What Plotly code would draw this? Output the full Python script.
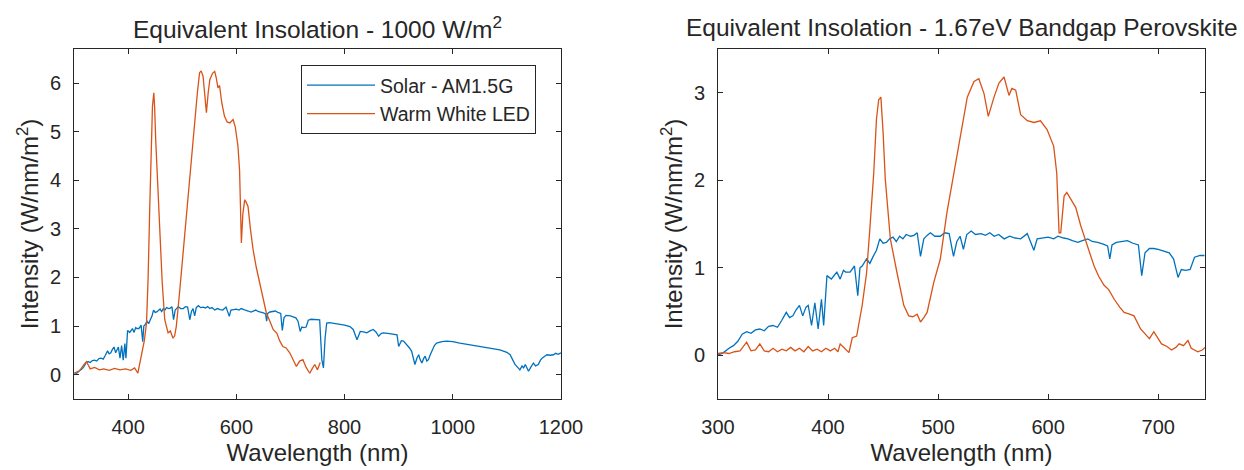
import plotly.graph_objects as go

# ---------------- data ----------------
solar_wl = [300, 305, 310, 314, 318, 322, 326, 330, 334, 338, 342, 346, 350, 354, 358, 362, 365, 368,
            371, 374, 377, 380, 382, 385, 388, 391, 394, 396, 399, 403, 406, 408, 411, 414, 416, 420,
            424, 427, 429, 431, 435, 438, 441, 444, 447, 450, 453, 456, 459, 462, 465, 468, 471, 475,
            478, 481, 484, 487, 490, 493, 497, 502, 506, 510, 514, 517, 520, 523, 526, 530, 534, 539,
            543, 547, 551, 555, 560, 565, 570, 575, 581, 587, 590, 595, 600, 605, 609, 614, 618, 622,
            627, 631, 636, 640, 645, 650, 654, 656, 658, 662, 667, 672, 677, 682, 685, 688, 692, 696,
            700, 705, 710, 714, 718, 721, 725, 729, 733, 738, 742, 748, 754, 758, 761, 764, 767, 772,
            779, 790, 800, 810, 816, 823, 829, 835, 841, 847, 853, 858, 863, 868, 872, 880, 890, 897,
            900, 905, 909, 915, 920, 924, 930, 934, 937, 940, 943, 946, 949, 952, 955, 958, 961, 966,
            970, 980, 989, 1000, 1013, 1030, 1050, 1070, 1087, 1100, 1106, 1111, 1115, 1120, 1124,
            1128, 1131, 1134, 1137, 1140, 1144, 1149, 1153, 1158, 1162, 1165, 1170, 1174, 1180, 1186,
            1190, 1195, 1200]
solar_val = [0.00, 0.03, 0.08, 0.11, 0.16, 0.24, 0.27, 0.25, 0.29, 0.30, 0.28, 0.33, 0.34, 0.32, 0.40,
             0.49, 0.43, 0.45, 0.52, 0.57, 0.45, 0.55, 0.57, 0.34, 0.60, 0.30, 0.64, 0.34, 0.91, 0.87,
             0.92, 0.95, 0.87, 0.97, 0.95, 0.95, 1.02, 0.68, 1.00, 1.02, 1.10, 1.05, 1.13, 1.20, 1.33,
             1.28, 1.29, 1.33, 1.35, 1.30, 1.36, 1.33, 1.38, 1.36, 1.37, 1.40, 1.13, 1.33, 1.37, 1.40,
             1.36, 1.36, 1.40, 1.39, 1.13, 1.30, 1.36, 1.21, 1.38, 1.42, 1.38, 1.39, 1.37, 1.40, 1.36,
             1.38, 1.33, 1.36, 1.34, 1.33, 1.39, 1.20, 1.33, 1.34, 1.35, 1.33, 1.36, 1.34, 1.33, 1.31,
             1.29, 1.31, 1.33, 1.30, 1.29, 1.27, 1.25, 1.10, 1.26, 1.29, 1.30, 1.31, 1.28, 1.26, 0.91,
             1.17, 1.22, 1.22, 1.21, 1.19, 1.17, 1.10, 0.89, 0.98, 0.97, 0.98, 1.12, 1.14, 1.14, 1.13,
             1.13, 0.31, 0.14, 0.75, 1.06, 1.07, 1.06, 1.04, 1.02, 0.99, 0.93, 0.72, 0.89, 0.88, 0.86,
             0.90, 0.93, 0.88, 0.79, 0.85, 0.86, 0.85, 0.84, 0.82, 0.58, 0.70, 0.69, 0.62, 0.55, 0.48,
             0.21, 0.35, 0.41, 0.30, 0.24, 0.33, 0.38, 0.28, 0.31, 0.40, 0.48, 0.60, 0.65, 0.68, 0.69,
             0.68, 0.65, 0.62, 0.58, 0.55, 0.51, 0.46, 0.41, 0.30, 0.21, 0.15, 0.10, 0.18, 0.14, 0.21,
             0.12, 0.07, 0.15, 0.24, 0.18, 0.21, 0.30, 0.34, 0.38, 0.41, 0.40, 0.41, 0.44, 0.42, 0.45]

led1000_wl = [300, 310, 318, 323, 330, 338, 347, 355, 365, 375, 385, 395, 405, 412, 418, 422, 425, 430,
              434, 437, 440, 443, 445, 447.5, 449, 451, 455, 458.5, 463, 467.7, 473.9, 478, 483, 486,
              489, 495, 500, 505, 510, 514, 519, 523, 528, 532, 535, 538.5, 542, 544.7, 548, 551, 556,
              560, 563, 566, 569, 573, 578, 583, 588, 594, 598, 603, 606, 608, 609.3, 612, 615.5, 618,
              621.6, 626, 631, 637, 643, 649, 655.5, 662, 668, 675, 680, 686, 692, 698.7, 705, 711,
              717, 723, 729, 735.7, 740, 744.9, 750, 755]
led1000_val = [0.03, 0.08, 0.20, 0.27, 0.12, 0.15, 0.10, 0.12, 0.09, 0.13, 0.10, 0.12, 0.09, 0.14, 0.03,
               0.25, 0.45, 0.70, 1.06, 2.00, 3.45, 4.70, 5.52, 5.80, 5.50, 4.83, 3.80, 2.77, 1.90, 1.13,
               0.86, 0.90, 0.75, 0.80, 0.99, 1.68, 2.30, 2.98, 3.60, 4.15, 4.80, 5.25, 5.80, 6.21, 6.25,
               6.14, 5.70, 5.39, 5.80, 6.07, 6.20, 6.24, 6.10, 5.90, 5.95, 5.60, 5.32, 5.20, 5.18, 5.25,
               5.10, 4.70, 4.20, 3.20, 2.71, 3.30, 3.60, 3.55, 3.46, 3.00, 2.57, 2.20, 1.89, 1.55, 1.27,
               1.10, 0.93, 0.85, 0.70, 0.58, 0.55, 0.45, 0.30, 0.17, 0.28, 0.31, 0.15, 0.03, 0.12, 0.21,
               0.10, 0.25]

ledpv_wl = [300, 305, 310, 315, 320, 326, 330, 334, 338, 342, 346, 350, 354, 358, 362, 366, 370, 374,
            378, 382, 386, 390, 394, 398, 402, 406, 409, 411, 415, 419, 422, 426, 431, 435, 438, 441.5,
            444, 446, 448, 450, 452, 456.6, 462.7, 468.8, 473.3, 477, 481, 484, 487, 490, 496, 502, 508,
            514, 520, 526.5, 532.6, 537, 541.7, 545.6, 550.8, 555.3, 559.9, 564.4, 567, 570.5, 575, 581,
            587, 593, 599, 605, 607.8, 609.9, 611.4, 614.5, 616.9, 620.5, 625, 629.6, 635.7, 641.7, 646,
            650.8, 655, 660, 665, 669, 674, 678, 684, 688, 692, 696, 700, 703, 708, 712, 716, 719, 723,
            727, 730, 736, 740, 742.5]
ledpv_val = [0.02, 0.03, 0.02, 0.04, 0.05, 0.15, 0.05, 0.06, 0.13, 0.05, 0.04, 0.08, 0.04, 0.07, 0.05,
             0.09, 0.05, 0.08, 0.04, 0.10, 0.05, 0.07, 0.04, 0.08, 0.05, 0.08, 0.04, 0.13, 0.08, 0.03,
             0.20, 0.22, 0.57, 0.94, 1.45, 2.08, 2.70, 2.92, 2.95, 2.55, 2.01, 1.33, 0.94, 0.57, 0.45,
             0.44, 0.47, 0.38, 0.43, 0.49, 0.83, 1.10, 1.63, 2.05, 2.50, 2.95, 3.13, 3.16, 2.99, 2.73,
             2.95, 3.11, 3.18, 2.97, 3.05, 3.03, 2.75, 2.68, 2.66, 2.68, 2.58, 2.39, 2.08, 1.40, 1.40,
             1.82, 1.86, 1.78, 1.69, 1.48, 1.25, 1.02, 0.90, 0.80, 0.75, 0.64, 0.55, 0.49, 0.47, 0.45,
             0.30, 0.24, 0.19, 0.27, 0.18, 0.13, 0.10, 0.06, 0.09, 0.13, 0.11, 0.17, 0.08, 0.04, 0.06,
             0.09]

pv_cutoff = 742.5  # 1240 / 1.67 eV

titles = ["Equivalent Insolation - 1000 W/m<sup>2</sup>",
          "Equivalent Insolation - 1.67eV Bandgap Perovskite"]
x_label = "Wavelength (nm)"
y_label = "Intensity (W/nm/m<sup>2</sup>)"
series_names = ["Solar - AM1.5G", "Warm White LED"]

# ---------------- styling ----------------
W, H = 1244, 470
BLUE = "#0072BD"
ORANGE = "#D95319"
INK = "#262626"
FONT = "Liberation Sans, Arial, sans-serif"

solar_pv_wl = [w for w in solar_wl if w <= pv_cutoff]
solar_pv_val = [v for w, v in zip(solar_wl, solar_val) if w <= pv_cutoff]

fig = go.Figure()
fig.add_trace(go.Scatter(x=solar_wl, y=solar_val, mode="lines", name=series_names[0],
                         line=dict(color=BLUE, width=1.3), xaxis="x", yaxis="y"))
fig.add_trace(go.Scatter(x=led1000_wl, y=led1000_val, mode="lines", name=series_names[1],
                         line=dict(color=ORANGE, width=1.3), xaxis="x", yaxis="y"))
fig.add_trace(go.Scatter(x=solar_pv_wl, y=solar_pv_val, mode="lines", name=series_names[0],
                         showlegend=False, line=dict(color=BLUE, width=1.3), xaxis="x2", yaxis="y2"))
fig.add_trace(go.Scatter(x=ledpv_wl, y=ledpv_val, mode="lines", name=series_names[1],
                         showlegend=False, line=dict(color=ORANGE, width=1.3), xaxis="x2", yaxis="y2"))

ydom = [(H - 399) / H, (H - 49) / H]
axis_common = dict(showline=True, linecolor=INK, linewidth=1, mirror="ticks", ticks="inside",
                   ticklen=5, tickcolor=INK, showgrid=False, zeroline=False, automargin=False,
                   tickfont=dict(family=FONT, size=20, color=INK),
                   title_font=dict(family=FONT, size=24, color=INK))

fig.update_layout(
    width=W, height=H,
    margin=dict(l=0, r=0, t=0, b=0),
    paper_bgcolor="white", plot_bgcolor="white",
    font=dict(family=FONT, color=INK),
    xaxis=dict(domain=[74 / W, 561 / W], range=[300, 1200], tickvals=[400, 600, 800, 1000, 1200],
               anchor="y", ticklabelstandoff=10, title=dict(text=x_label, standoff=7), **axis_common),
    yaxis=dict(domain=ydom, range=[-0.5, 6.7], tickvals=[0, 1, 2, 3, 4, 5, 6], anchor="x",
               ticklabelstandoff=8, title=dict(text=y_label, standoff=4), **axis_common),
    xaxis2=dict(domain=[718 / W, 1205 / W], range=[300, pv_cutoff], tickvals=[300, 400, 500, 600, 700],
                anchor="y2", ticklabelstandoff=10, title=dict(text=x_label, standoff=7), **axis_common),
    yaxis2=dict(domain=ydom, range=[-0.5, 3.5], tickvals=[0, 1, 2, 3], anchor="x2",
                ticklabelstandoff=8, title=dict(text=y_label, standoff=4), **axis_common),
    legend=dict(x=301 / W, y=1 - 65 / H, xanchor="left", yanchor="top",
                bordercolor=INK, borderwidth=1, bgcolor="white",
                font=dict(family=FONT, size=19.5, color=INK), itemwidth=68,
                tracegroupgap=0),
    annotations=[
        dict(text=titles[0], x=(74 + 561) / 2 / W, y=1 - 27 / H, xref="paper", yref="paper",
             xanchor="center", yanchor="middle", showarrow=False,
             font=dict(family=FONT, size=24.5, color=INK)),
        dict(text=titles[1], x=(718 + 1205) / 2 / W, y=1 - 27 / H, xref="paper", yref="paper",
             xanchor="center", yanchor="middle", showarrow=False,
             font=dict(family=FONT, size=24.5, color=INK)),
    ],
)

fig.write_html("out.html")
